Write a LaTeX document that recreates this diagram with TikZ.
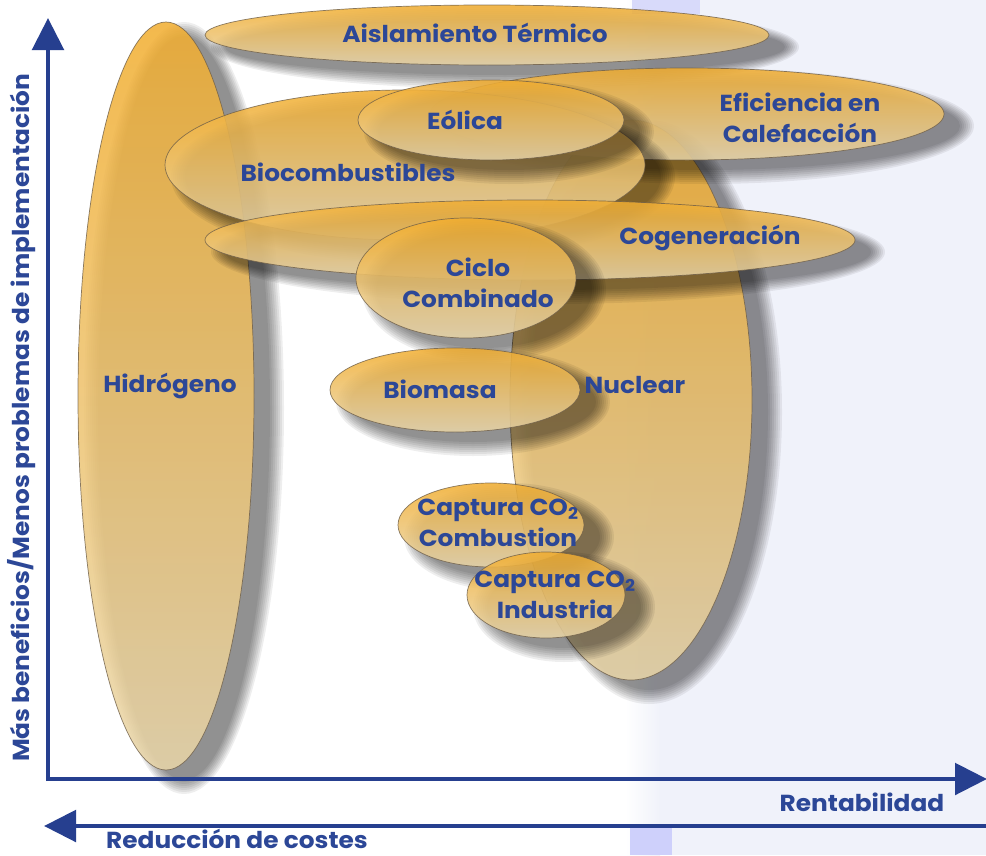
\documentclass[tikz,border=0pt]{standalone}
\usepackage{fontspec}
\setmainfont{Poppins}[FakeStretch=1.07]
\usetikzlibrary{arrows.meta}
\definecolor{txtblue}{HTML}{2C4797}
\definecolor{axblue}{HTML}{263F8F}
\definecolor{otop}{HTML}{F2AE30}
\definecolor{omid}{HTML}{DFAA4C}
\definecolor{obot}{HTML}{E9D6AA}
\definecolor{edge}{HTML}{6E5E48}
\definecolor{bgblue}{HTML}{F0F2FA}
\newcommand\myblob[4]{%
  \foreach \k in {0,...,7}{%
    \fill[black,opacity=0.065] ({#1+18},{#2+12}) ellipse [x radius={#3+12-2*\k}, y radius={#4+12-2*\k}];
  }%
  \path[blobfill] (#1,#2) ellipse [x radius=#3, y radius=#4];
}
\tikzset{
  blobfill/.style={draw=edge, line width=0.5pt, top color=otop, middle color=omid, bottom color=obot, fill opacity=0.86, draw opacity=0.8},
  lbl/.style={text=txtblue, font=\fontsize{16.5}{22}\selectfont\bfseries, align=center, inner sep=0pt},
  axis/.style={draw=axblue, line width=3.4pt, -{Triangle[length=0.8cm,width=0.78cm]}}
}
\begin{document}
\begin{tikzpicture}[x=0.025cm,y=-0.025cm]
\useasboundingbox (0,0) rectangle (986,855);
\fill[white] (0,0) rectangle (986,855);
\fill[bgblue] (630,0) rectangle (986,855);
\shade[left color=white, right color=bgblue] (625,0) rectangle (660,855);
\fill[blue!10!bgblue] (632,0) rectangle (700,14);
\fill[blue!14!bgblue] (630,828) rectangle (672,855);
% ellipses
\myblob{166}{396}{88}{374}
\myblob{631}{400}{121}{280}
\myblob{487}{35}{282}{30}
\myblob{687}{114}{257}{46}
\myblob{405}{165}{240}{75}
\myblob{491}{120}{133}{40}
\myblob{530}{240}{325}{40}
\myblob{466}{278}{110}{60}
\myblob{455}{390}{125}{42}
\myblob{491}{525}{93}{42}
\myblob{546}{595}{79}{43}
% axes
\coordinate (o) at (48,781);
\coordinate (ytop) at (48,18);
\coordinate (xs) at (46,779);
\coordinate (xend) at (987,779);
\coordinate (rs) at (986,826);
\coordinate (re) at (44,826);
\draw[axis] (o) -- (ytop);
\draw[axis] (xs) -- (xend);
\draw[axis] (rs) -- (re);
% labels
\node[lbl] (ais) at (475,33) {Aislamiento Térmico};
\node[lbl] (eol) at (465,120) {Eólica};
\node[lbl] (efi) at (800,118) {Eficiencia en\\Calefacción};
\node[lbl] (bio) at (348,172) {Biocombustibles};
\node[lbl] (cog) at (710,238) {Cogeneración};
\node[lbl] (cic) at (478,283) {Ciclo\\Combinado};
\node[lbl] (hid) at (170,386) {Hidrógeno};
\node[lbl] (bma) at (440,389) {Biomasa};
\node[lbl] (nuc) at (635,385) {Nuclear};
\node[lbl] (cc) at (498,523) {Captura CO\textsubscript{2}\\Combustion};
\node[lbl] (ci) at (555,595) {Captura CO\textsubscript{2}\\Industria};
\node[lbl, rotate=90] (ylab) at (22,418) {Más beneficios/Menos problemas de implementación};
\node[lbl] (rent) at (862,802) {Rentabilidad};
\node[lbl, anchor=base] (red) at (237,848) {Reducción de costes};
\end{tikzpicture}
\end{document}
